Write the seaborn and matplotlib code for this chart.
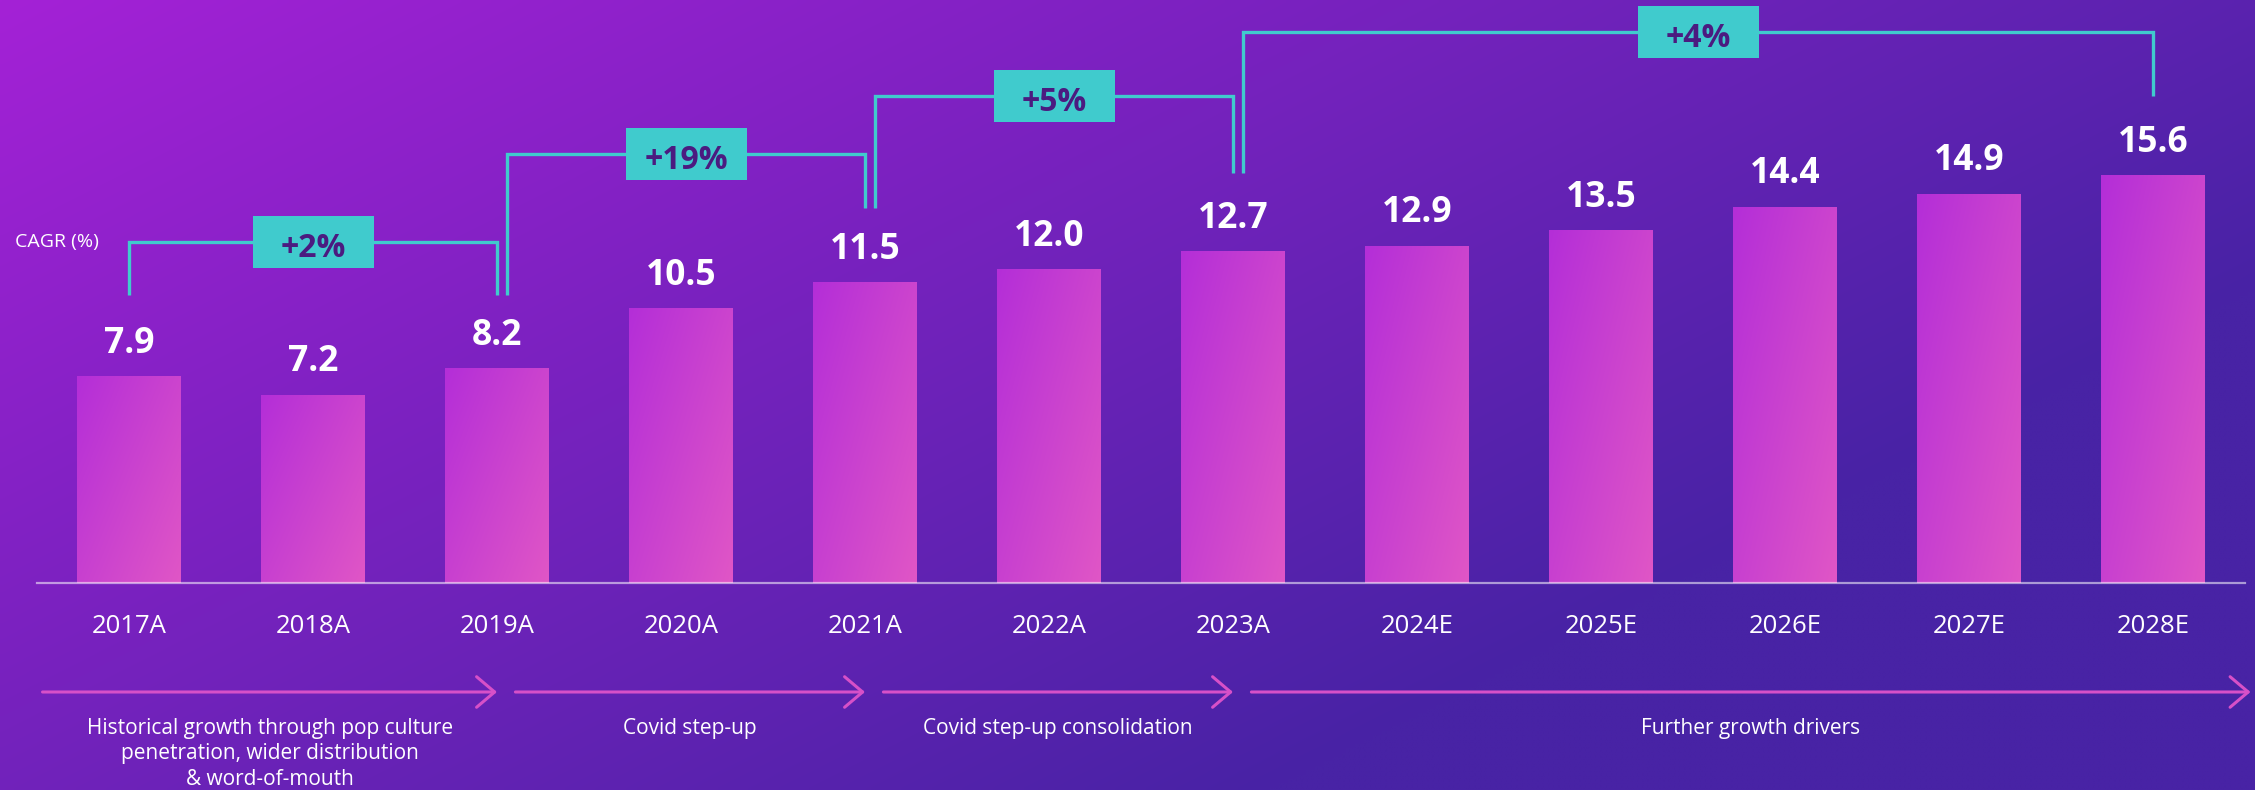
import numpy as np
import pandas as pd
import matplotlib
matplotlib.use("Agg")
import matplotlib.pyplot as plt
import seaborn as sns
from matplotlib.patches import FancyArrowPatch, Rectangle

# ---------------- data ----------------
years = ["2017A", "2018A", "2019A", "2020A", "2021A", "2022A",
         "2023A", "2024E", "2025E", "2026E", "2027E", "2028E"]
values = [7.9, 7.2, 8.2, 10.5, 11.5, 12.0, 12.7, 12.9, 13.5, 14.4, 14.9, 15.6]

cagr_labels = ["+2%", "+19%", "+5%", "+4%"]
cagr_start = [0, 2, 4, 6]
cagr_end = [2, 4, 6, 11]

phase_labels = [
    "Historical growth through pop culture\npenetration, wider distribution\n& word-of-mouth",
    "Covid step-up",
    "Covid step-up consolidation",
    "Further growth drivers",
]
phase_start = [0, 2, 4, 6]
phase_end = [2, 4, 6, 11]

axis_title = "CAGR (%)"

# ---------------- layout / style ----------------
W, H, DPI = 2255, 790, 100
BASE_PX = 583          # baseline, pixels from top
PX_PER_UNIT = 26.1     # vertical scale
X0_PX, STEP_PX = 129, 184

TEAL = "#40cbcd"
BOX_TXT = "#4b1b80"
ARROW = "#d750c8"

sns.set_theme(style="white")
plt.rcParams["font.family"] = ["Open Sans", "DejaVu Sans"]

fig = plt.figure(figsize=(W / DPI, H / DPI), dpi=DPI)

# background gradient
bg = fig.add_axes([0, 0, 1, 1], zorder=0)
bg.axis("off")
xx, yy = np.meshgrid(np.linspace(0, 1, 500), np.linspace(0, 1, 180))
t = np.clip(0.8 * xx + 0.55 * yy, 0, 1)
c0 = np.array([164, 33, 214]) / 255
c1 = np.array([72, 35, 165]) / 255
bg.imshow(c0 + (c1 - c0) * t[..., None], extent=[0, 1, 0, 1],
          aspect="auto", origin="upper", interpolation="bilinear")
bg.set_xlim(0, 1); bg.set_ylim(0, 1)

ax = fig.add_axes([0, (H - BASE_PX) / H, 1, BASE_PX / H], zorder=1)
ax.patch.set_alpha(0)

df = pd.DataFrame({"year": years, "value": values})
sns.barplot(data=df, x="year", y="value", order=years, width=0.56,
            color="#c040d0", saturation=1, ax=ax, zorder=2)

xlim = (-X0_PX / STEP_PX, (W - X0_PX) / STEP_PX)
ylim = (0, BASE_PX / PX_PER_UNIT)

# gradient fill on each bar
u, v = np.meshgrid(np.linspace(0, 1, 60), np.linspace(0, 1, 200))
tb = np.clip(0.55 * u + 0.45 * v, 0, 1)
b0 = np.array([180, 46, 216]) / 255
b1 = np.array([224, 86, 198]) / 255
bar_img = b0 + (b1 - b0) * tb[..., None]
for p in list(ax.patches):
    x0, y0, w, h = p.get_x(), p.get_y(), p.get_width(), p.get_height()
    ax.imshow(bar_img, extent=[x0, x0 + w, y0, y0 + h], aspect="auto",
              origin="upper", interpolation="bilinear", zorder=2)
    p.set_visible(False)

ax.set_xlim(*xlim)
ax.set_ylim(*ylim)

# value labels
def px(d):
    return d / PX_PER_UNIT

for i, val in enumerate(values):
    ax.text(i, val + px(24), f"{val:.1f}", ha="center", va="baseline",
            fontsize=25.5, fontweight="bold", color="white", zorder=4)

# axes styling
ax.set_xlabel(""); ax.set_ylabel("")
ax.set_yticks([])
for s in ["top", "left", "right"]:
    ax.spines[s].set_visible(False)
sp = ax.spines["bottom"]
sp.set_bounds(-0.5, len(years) - 0.5)
sp.set_color("white"); sp.set_alpha(0.55); sp.set_linewidth(1.6); sp.set_zorder(5)
ax.tick_params(axis="x", length=0, pad=22, labelsize=18.5, labelcolor="white")

# CAGR brackets
top_px = [242, 154, 96, 32]
left_bot_px = [295, 295, 208, 173]
right_bot_px = [295, 208, 173, 96]
to_y = lambda p: (BASE_PX - p) / PX_PER_UNIT
box_w = 121 / STEP_PX
box_h = 52 / PX_PER_UNIT
for k, lab in enumerate(cagr_labels):
    xl = cagr_start[k] + (10 / STEP_PX if k > 0 else 0)
    xr = cagr_end[k]
    yt = to_y(top_px[k])
    ax.plot([xl, xl, xr, xr], [to_y(left_bot_px[k]), yt, yt, to_y(right_bot_px[k])],
            color=TEAL, lw=2.4, solid_joinstyle="miter", solid_capstyle="butt",
            clip_on=False, zorder=3)
    xc = (xl + xr) / 2
    ax.add_patch(Rectangle((xc - box_w / 2, yt - box_h / 2), box_w, box_h,
                           facecolor=TEAL, edgecolor="none", zorder=4, clip_on=False))
    ax.text(xc, yt - px(15), lab, ha="center", va="baseline", fontsize=23,
            fontweight="bold", color=BOX_TXT, zorder=5)

fig.text(15 / W, 1 - 242 / H, axis_title, ha="left", va="center",
         fontsize=14, color="white")

# phase arrows and labels
arrow_y = -px(109)
text_top = -px(718 - BASE_PX)
n = len(phase_labels)
for k, lab in enumerate(phase_labels):
    xs = phase_start[k] + (0.1 if k > 0 else -0.47)
    xe = phase_end[k] + (0.53 if k == n - 1 else 0.0)
    arr = FancyArrowPatch((xs, arrow_y), (xe, arrow_y),
                          arrowstyle="->,head_length=0.65,head_width=0.55",
                          mutation_scale=20, color=ARROW, lw=2.2,
                          shrinkA=0, shrinkB=0, clip_on=False, zorder=3)
    ax.add_patch(arr)
    ax.text((xs + xe) / 2, text_top, lab, ha="center", va="top",
            multialignment="center", fontsize=15, color="white",
            linespacing=1.27, clip_on=False)

fig.savefig("out.png", dpi=DPI)
